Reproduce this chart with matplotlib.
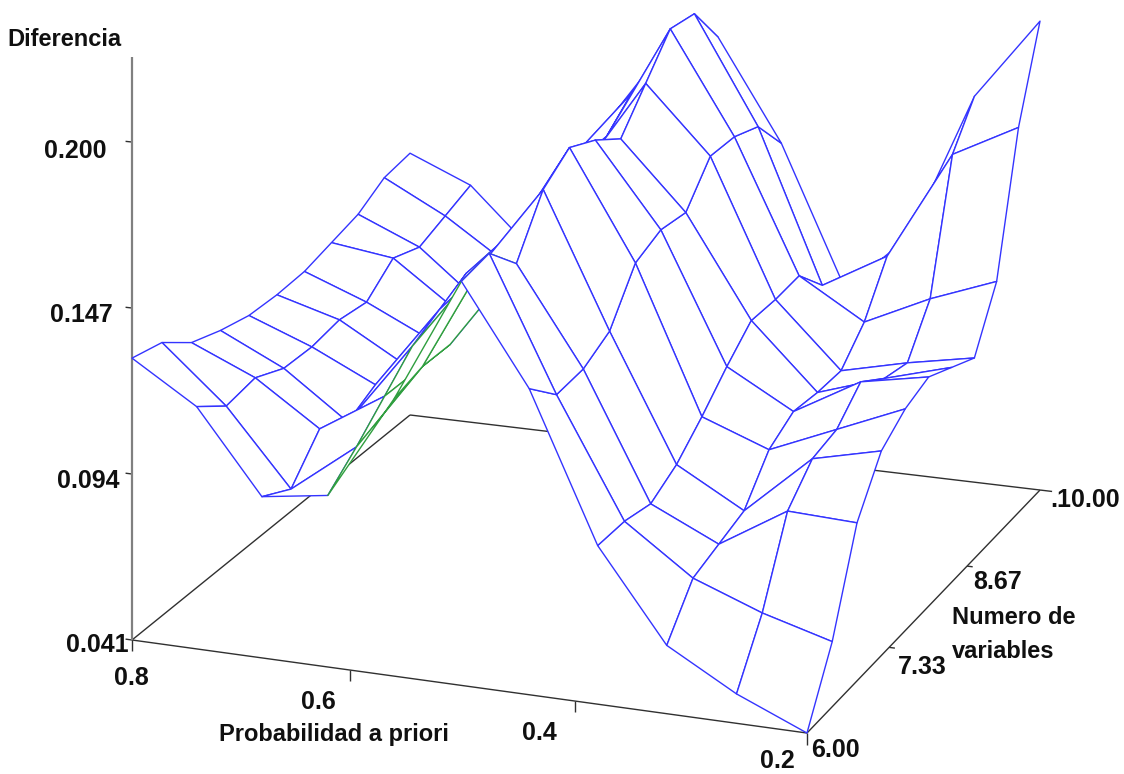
import numpy as np
import matplotlib
matplotlib.use('Agg')
import matplotlib.pyplot as plt
from mpl_toolkits.mplot3d.art3d import Poly3DCollection, Line3DCollection

plt.rcParams['font.family'] = ['Liberation Sans', 'DejaVu Sans']

# probabilidad a priori / numero de variables
prob = [0.80, 0.74, 0.68, 0.62, 0.56, 0.50, 0.44, 0.38, 0.32, 0.26, 0.20]
nvars = [6.0, 6.4, 6.8, 7.2, 7.6, 8.0, 8.4, 8.8, 9.2, 9.6, 10.0]

# diferencia, one list per prob value, running along nvars
dif_80 = [.131, .129, .122, .119, .117, .117, .118, .121, .124, .130, .132]
dif_74 = [.118, .111, .113, .109, .109, .111, .110, .118, .115, .119, .123]
dif_68 = [.092, .087, .099, .094, .099, .099, .100, .103, .098, .105, .103]
dif_62 = [.095, .103, .112, .121, .126, .131, .131, .134, .139, .142, .143]
dif_56 = [.128, .131, .131, .148, .148, .152, .154, .154, .159, .167, .172]
dif_50 = [.167, .169, .159, .176, .183, .179, .173, .185, .197, .196, .182]
dif_44 = [.136, .127, .128, .133, .148, .152, .151, .163, .163, .160, .148]
dif_38 = [.090, .090, .088, .093, .101, .110, .118, .118, .119, .109, .101]
dif_32 = [.062, .075, .078, .081, .093, .098, .097, .097, .106, .121, .121]
dif_26 = [.050, .067, .091, .100, .102, .110, .104, .102, .116, .157, .170]
dif_20 = [.041, .061, .090, .105, .111, .114, .110, .106, .124, .168, .197]

z_ticks = [0.041, 0.094, 0.147, 0.200]
z_top = 0.227
p_ticks = [0.8, 0.6, 0.4, 0.2]
n_ticks = [7.33, 8.67]

Z = np.array([dif_80, dif_74, dif_68, dif_62, dif_56, dif_50, dif_44, dif_38, dif_32, dif_26, dif_20])

BLUE = '#3434ff'
GREEN = '#2f9e3f'
W, H = 1124, 774

fig = plt.figure(figsize=(W / 100, H / 100), dpi=100)
# 3d axes are forced square, so make the square as wide as the figure
ax = fig.add_axes([0, (H - W) / 2 / H, 1, W / H], projection='3d', computed_zorder=False)
ax.set_axis_off()


def get_proj():
    # camera of the original plot: verticals stay vertical, base is a trapezoid
    to_unit = np.array([[-1 / 0.6, 0, 0, 0.8 / 0.6],
                        [0, 0.25, 0, -1.5],
                        [0, 0, 1, -0.041],
                        [0, 0, 0, 1]])
    cam = np.array([[637.3, 314.4, 0, 132],
                    [58.8, -188.2, -3132, 640],
                    [-0.39, 0.8, -1.4, 0],
                    [-0.0467, 0.0887, 0, 1]])
    flip = np.array([[1, 0, 0, 0], [0, -1, 0, H], [0, 0, 1, 0], [0, 0, 0, 1]])
    t = ax.transData.get_affine().get_matrix()
    lift = np.array([[t[0, 0], t[0, 1], 0, t[0, 2]],
                     [t[1, 0], t[1, 1], 0, t[1, 2]],
                     [0, 0, 1, 0],
                     [0, 0, 0, 1]])
    return np.linalg.inv(lift) @ flip @ cam @ to_unit


ax.get_proj = get_proj

# base plane, axis and tick marks
p0, p1 = prob[0], prob[-1]
n0, n1 = nvars[0], nvars[-1]
zb = z_ticks[0]
frame = [[(p0, n0, zb), (p1, n0, zb)], [(p1, n0, zb), (p1, n1, zb)],
         [(p1, n1, zb), (p0, n1, zb)], [(p0, n1, zb), (p0, n0, zb)]]
for z in z_ticks:
    frame.append([(p0, n0, z), (p0 + 0.006, n0, z)])
for p in p_ticks:
    frame.append([(p, n0, zb), (p, n0, zb - 0.0035)])
for n in n_ticks:
    frame.append([(p1, n, zb), (p1 - 0.005, n, zb)])
frame.append([(p1, n1, zb), (p1 - 0.011, n1, zb)])
ax.add_collection3d(Line3DCollection(frame, colors='#303030', linewidths=1.0, zorder=1))
ax.add_collection3d(Line3DCollection([[(p0, n0, zb), (p0, n0, z_top)]], colors='#808080', linewidths=1.6, zorder=1))

# surface, one quad per cell. underside cells show in green
verts = []
edges = []
for i in range(len(prob) - 1):
    for j in range(len(nvars) - 1):
        verts.append([(prob[i], nvars[j], Z[i, j]),
                      (prob[i + 1], nvars[j], Z[i + 1, j]),
                      (prob[i + 1], nvars[j + 1], Z[i + 1, j + 1]),
                      (prob[i], nvars[j + 1], Z[i, j + 1])])
        green = (i == 3 and j <= 2) or (i == 4 and j <= 1)
        edges.append(GREEN if green else BLUE)
surf = Poly3DCollection(verts, facecolors='white', edgecolors=edges, linewidths=1.0, zorder=2)
ax.add_collection3d(surf)

# labels
labels = [('Diferencia', 64, 40), ('Probabilidad a priori', 334, 735),
          ('Numero de', 1014, 618), ('variables', 1003, 652)]
numbers = [('0.200', 75, 151), ('0.147', 81, 315), ('0.094', 88, 481), ('0.041', 97, 645),
           ('0.8', 131, 678), ('0.6', 318, 702), ('0.4', 539, 733), ('0.2', 777, 761),
           ('6.00', 835, 750), ('7.33', 922, 667), ('8.67', 998, 582), ('.10.00', 1085, 500)]
for s, x, y in labels:
    fig.text(x / W, 1 - y / H, s, ha='center', va='center', fontsize=17, fontweight='bold', color='#101010')
for s, x, y in numbers:
    fig.text(x / W, 1 - y / H, s, ha='center', va='center', fontsize=18, fontweight='bold', color='#101010')

fig.savefig('out.png', dpi=100, facecolor='white')
